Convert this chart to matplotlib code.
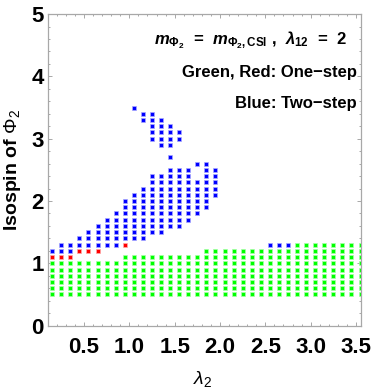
import numpy as np
from matplotlib import pyplot as plt

plt.rcParams['font.family'] = ['Liberation Sans', 'DejaVu Sans']
plt.rcParams['mathtext.fontset'] = 'custom'
plt.rcParams['mathtext.rm'] = 'Liberation Sans'
plt.rcParams['mathtext.it'] = 'Liberation Sans:italic'
plt.rcParams['mathtext.bf'] = 'Liberation Sans:bold'
plt.rcParams['mathtext.bfit'] = 'Liberation Sans:italic:bold'

# lambda_2 grid columns and isospin ranges
# green: one-step, each column goes from 0.5 up to green_top
green_x = [0.15, 0.25, 0.35, 0.45, 0.55, 0.65, 0.75, 0.85, 0.95, 1.05,
           1.15, 1.25, 1.35, 1.45, 1.55, 1.65, 1.75, 1.85, 1.95, 2.05,
           2.15, 2.25, 2.35, 2.45, 2.55, 2.65, 2.75, 2.85, 2.95, 3.05,
           3.15, 3.25, 3.35, 3.45, 3.55]
green_top = [1.0, 1.0, 1.0, 1.0, 1.0, 1.0, 1.0, 1.0, 1.1, 1.1,
             1.1, 1.1, 1.1, 1.1, 1.1, 1.1, 1.1, 1.2, 1.2, 1.2,
             1.2, 1.2, 1.2, 1.2, 1.2, 1.2, 1.2, 1.3, 1.3, 1.3,
             1.3, 1.3, 1.3, 1.3, 1.3]
green_bottom = 0.5

# red: one-step points
red_x = [0.15, 0.25, 0.35, 0.45, 0.55, 0.65, 0.95]
red_y = [1.1, 1.1, 1.1, 1.2, 1.2, 1.2, 1.3]

# blue: two-step, column segments (x, from, to)
blue_x = [0.15, 0.25, 0.35, 0.45, 0.55, 0.65, 0.75, 0.85, 0.95,
          1.05, 1.05, 1.15, 1.15, 1.25, 1.25, 1.35, 1.35,
          1.45, 1.45, 1.45, 1.55, 1.55, 1.65, 1.75, 1.75, 1.85, 1.95,
          2.55, 2.65, 2.75]
blue_lo = [1.2, 1.2, 1.2, 1.3, 1.3, 1.3, 1.3, 1.3, 1.4,
           1.4, 3.5, 1.4, 3.3, 1.5, 3.0, 1.5, 2.9,
           1.6, 2.7, 2.9, 1.6, 3.0, 1.7, 1.8, 2.6, 1.9, 2.1,
           1.3, 1.3, 1.3]
blue_hi = [1.2, 1.3, 1.3, 1.4, 1.5, 1.6, 1.7, 1.8, 2.0,
           2.1, 3.5, 2.2, 3.4, 2.4, 3.4, 2.4, 3.3,
           2.5, 2.7, 3.2, 2.5, 3.1, 2.5, 2.3, 2.6, 2.6, 2.5,
           1.3, 1.3, 1.3]

x_ticks = [0.5, 1.0, 1.5, 2.0, 2.5, 3.0, 3.5]
y_ticks = [0, 1, 2, 3, 4, 5]


def column_points(xs, lows, highs):
    px, py = [], []
    for x, lo, hi in zip(xs, lows, highs):
        ys = np.round(np.arange(lo, hi + 0.05, 0.1), 2)
        px += [x] * len(ys)
        py += list(ys)
    return px, py


gx, gy = column_points(green_x, [green_bottom] * len(green_x), green_top)
bx, by = column_points(blue_x, blue_lo, blue_hi)

fig = plt.figure(figsize=(3.74, 3.89), dpi=100)
ax = fig.add_axes([0.1275, 0.163, 0.8377, 0.8008])

ms = 3.3
ax.plot(gx, gy, 's', color='#00ff00', ms=ms, mec='#a8ffa8', mew=0.5)
ax.plot(red_x, red_y, 's', color='#ff0000', ms=ms, mec='#ffa8a8', mew=0.5)
ax.plot(bx, by, 's', color='#0000ff', ms=ms, mec='#a8a8ff', mew=0.5)

ax.set_xlim(0.1, 3.555)
ax.set_ylim(0, 5)
ax.set_xticks(x_ticks)
ax.set_xticklabels(['%.1f' % t for t in x_ticks])
ax.set_yticks(y_ticks)
ax.set_xticks(np.arange(0.1, 3.56, 0.1), minor=True)
ax.set_yticks(np.arange(0, 5.01, 0.2), minor=True)

for s in ax.spines.values():
    s.set_color('#a8a8a8')
    s.set_linewidth(0.9)
ax.tick_params(which='both', direction='in', top=True, right=True,
               color='#a8a8a8', width=0.7)
ax.tick_params(which='major', length=3)
ax.tick_params(which='minor', length=1.6)
ax.tick_params(axis='x', which='major', pad=8, labelsize=16)
ax.tick_params(axis='y', which='major', pad=3, labelsize=16)
for lab in ax.get_xticklabels() + ax.get_yticklabels():
    lab.set_fontweight('bold')

ax.set_ylabel(r'Isospin of $\Phi_2$', fontsize=14, fontweight='bold')
ax.yaxis.set_label_coords(-0.08, 0.5)
ax.set_xlabel(r'$\lambda_2$', fontsize=14)
ax.xaxis.set_label_coords(0.496, -0.14)

ax.text(0.955, 0.917,
        r'$\mathbfit{m}_{\mathbf{\Phi_2}}$  =  $\mathbfit{m}_{\mathbf{\Phi_2,CSI}}$ ,  $\mathbfit{\lambda}_{\mathbf{12}}$  =  2',
        transform=ax.transAxes, ha='right', va='center', fontsize=12, fontweight='bold')
ax.text(0.987, 0.814, 'Green, Red: One\u2212step', transform=ax.transAxes,
        ha='right', va='center', fontsize=12, fontweight='bold')
ax.text(0.987, 0.714, 'Blue: Two\u2212step', transform=ax.transAxes,
        ha='right', va='center', fontsize=12, fontweight='bold')

fig.savefig('out.png', dpi=100)
